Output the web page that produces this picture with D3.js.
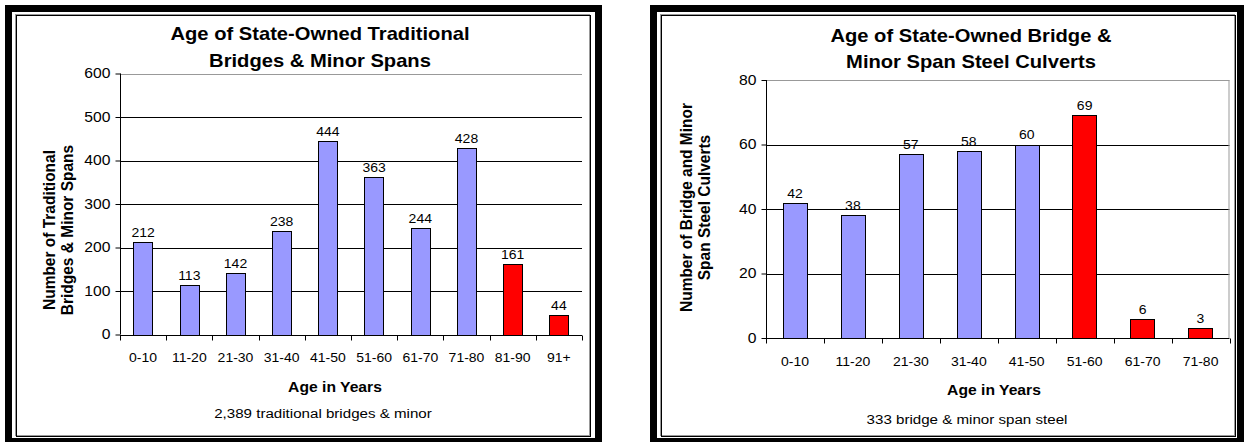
<!DOCTYPE html>
<html><head><meta charset="utf-8">
<script src="https://cdn.jsdelivr.net/npm/d3@7"></script>
<style>html,body{margin:0;padding:0;background:#fff;}svg{display:block;font-family:"Liberation Sans",Arial,sans-serif;}</style>
</head><body>
<svg id="c" width="1244" height="442"></svg>
<script>
const leftCategories = ['0-10','11-20','21-30','31-40','41-50','51-60','61-70','71-80','81-90','91+'];
const leftValues = [212,113,142,238,444,363,244,428,161,44];
const leftRed = ['81-90','91+'];
const leftTicks = [0,100,200,300,400,500,600];
const leftTitle = ['Age of State-Owned Traditional','Bridges & Minor Spans'];
const leftYLabel = ['Number of  Traditional','Bridges & Minor Spans'];
const leftNote = '2,389 traditional bridges & minor';

const rightCategories = ['0-10','11-20','21-30','31-40','41-50','51-60','61-70','71-80'];
const rightValues = [42,38,57,58,60,69,6,3];
const rightRed = ['51-60','61-70','71-80'];
const rightTicks = [0,20,40,60,80];
const rightTitle = ['Age of State-Owned Bridge &','Minor Span Steel Culverts'];
const rightYLabel = ['Number of Bridge and Minor','Span Steel Culverts'];
const rightNote = '333 bridge & minor span steel';

const xLabel = 'Age in Years';
const BLUE = '#9999FF', RED = '#FF0000';
const FONT = '"Liberation Sans",Arial,sans-serif';
const S = 1.12; // horizontal glyph stretch seen in the reference

const svg = d3.select('#c');

function panel(cfg){
  const g = svg.append('g');
  // outer thick frame
  g.append('rect').attr('x',cfg.fx).attr('y',8.5).attr('width',cfg.fw).attr('height',433)
    .attr('fill','none').attr('stroke','#000').attr('stroke-width',7);
  // inner double border
  g.append('rect').attr('x',cfg.ix+0.5).attr('y',14.5).attr('width',cfg.iw).attr('height',421)
    .attr('fill','#fff').attr('stroke','#999').attr('stroke-width',1);
  g.append('rect').attr('x',cfg.ix+1.5).attr('y',15.5).attr('width',cfg.iw).attr('height',421)
    .attr('fill','none').attr('stroke','#000').attr('stroke-width',1);

  const x = d3.scaleBand().domain(cfg.cats).range([cfg.x0,cfg.x1]).padding(0);
  const maxT = cfg.ticks[cfg.ticks.length-1];
  const y = d3.scaleLinear().domain([0,maxT]).range([cfg.y0,cfg.y1]);

  // gridlines
  g.selectAll('.grid').data(cfg.ticks.filter(t=>t>0)).enter().append('line')
    .attr('x1',cfg.x0).attr('x2',cfg.x1)
    .attr('y1',d=>Math.round(y(d))+0.5).attr('y2',d=>Math.round(y(d))+0.5)
    .attr('stroke',d=>d===maxT?'#999':'#000').attr('stroke-width',1);
  if(cfg.rightBorder){
    g.append('line').attr('x1',cfg.x1-0.5).attr('x2',cfg.x1-0.5)
      .attr('y1',Math.round(y(maxT))).attr('y2',cfg.y0).attr('stroke','#999');
  }

  // bars
  const bw = x.bandwidth()*0.42;
  g.selectAll('.bar').data(cfg.cats).enter().append('rect')
    .attr('x',(d)=>Math.round(x(d)+x.bandwidth()/2-bw/2)+0.5)
    .attr('y',(d,i)=>Math.round(y(cfg.vals[i]))+0.5)
    .attr('width',Math.round(bw))
    .attr('height',(d,i)=>Math.round(y(0))-Math.round(y(cfg.vals[i])))
    .attr('fill',d=>cfg.red.includes(d)?RED:BLUE)
    .attr('stroke','#000').attr('stroke-width',1);

  // value labels
  g.selectAll('.vl').data(cfg.cats).enter().append('text')
    .attr('x',d=>x(d)+x.bandwidth()/2)
    .attr('y',(d,i)=>y(cfg.vals[i])-5)
    .attr('text-anchor','middle').attr('font-size',12.5).attr('fill','#000')
    .text((d,i)=>cfg.vals[i]);

  // y axis
  const ya = d3.axisLeft(y).tickValues(cfg.ticks).tickSize(5).tickPadding(5);
  const yg = g.append('g').attr('transform',`translate(${cfg.x0+0.5},0)`).call(ya);
  yg.selectAll('text').attr('font-size',14).attr('fill','#000').attr('font-family',FONT);
  yg.selectAll('line,path').attr('stroke','#000');
  yg.select('.domain').attr('d',`M0,${y(maxT)}V${y(0)}`);

  // x axis
  const xa = d3.axisBottom(x).tickSize(0).tickPadding(cfg.xPad);
  const xg = g.append('g').attr('transform',`translate(0,${Math.round(cfg.y0)+0.5})`).call(xa);
  xg.selectAll('text').attr('font-size',12.5).attr('fill','#000').attr('font-family',FONT)
    .attr('dy',null);
  xg.select('.domain').attr('stroke','#000').attr('d',`M${cfg.x0},0H${cfg.x1}`);
  const bounds = cfg.cats.map(c=>x(c)).concat([cfg.x1]);
  xg.selectAll('.bt').data(bounds).enter().append('line')
    .attr('x1',d=>Math.round(d)+0.5).attr('x2',d=>Math.round(d)+0.5).attr('y1',0).attr('y2',5).attr('stroke','#000');

  // titles
  cfg.title.forEach((t,i)=>{
    g.append('text').attr('x',cfg.tx).attr('y',cfg.ty+i*26.7).attr('text-anchor','middle')
      .attr('font-size',18).attr('font-weight','bold').text(t);
  });

  // y label
  cfg.yl.forEach((t,i)=>{
    const ax = cfg.ylx+i*cfg.yls;
    g.append('text').attr('transform',`translate(${ax},${cfg.ylc}) rotate(-90)`)
      .attr('data-ax',ax)
      .attr('text-anchor','middle').attr('font-size',15.5).attr('font-weight','bold').text(t);
  });

  // x label and note
  g.append('text').attr('x',cfg.xlx).attr('y',cfg.xly).attr('text-anchor','middle')
    .attr('font-size',14).attr('font-weight','bold').text(xLabel);
  g.append('text').attr('x',cfg.nx).attr('y',cfg.ny).attr('text-anchor','middle')
    .attr('font-size',13.5).text(cfg.note);
}

panel({fx:8.5, fw:590, ix:15, iw:574, cats:leftCategories, vals:leftValues, red:leftRed, ticks:leftTicks,
  x0:120, x1:582, y0:334.5, y1:73.5, rightBorder:false, xPad:26.5,
  title:leftTitle, tx:320, ty:40, yl:leftYLabel, ylx:55, yls:17.5, ylc:230, note:leftNote,
  xlx:335, xly:391.7, nx:323, ny:417.7});

panel({fx:653.5, fw:587, ix:660, iw:574, cats:rightCategories, vals:rightValues, red:rightRed, ticks:rightTicks,
  x0:766, x1:1229.5, y0:338, y1:80, rightBorder:true, xPad:28,
  title:rightTitle, tx:971, ty:41.7, yl:rightYLabel, ylx:692, yls:17.5, ylc:207.5, note:rightNote,
  xlx:994, xly:395, nx:967, ny:424});

// horizontal stretch of glyphs around each text's anchor
svg.selectAll('text').each(function(){
  const t = d3.select(this);
  const old = t.attr('transform') || '';
  let ax = t.attr('data-ax');
  ax = ax != null ? +ax : (+t.attr('x') || 0);
  t.attr('transform', `translate(${ax},0) scale(${S},1) translate(${-ax},0) ${old}`);
});
</script>
</body></html>
